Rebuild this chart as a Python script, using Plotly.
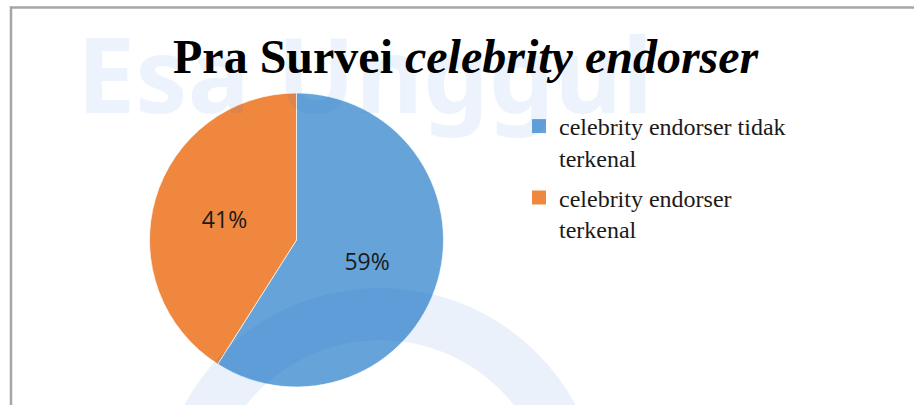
import plotly.graph_objects as go

labels = ["celebrity endorser tidak<br>terkenal", "celebrity endorser<br>terkenal"]
values = [59, 41]
colors = ["#66A3D8", "#EF873F"]
title_plain = "Pra Survei "
title_italic = "celebrity endorser"

W, H = 914, 405

def px(x):
    return x / W

def py(y):
    return 1 - y / H

fig = go.Figure()
fig.add_trace(go.Pie(
    labels=labels,
    values=values,
    sort=False,
    direction="clockwise",
    rotation=0,
    marker=dict(colors=colors, line=dict(color="white", width=0.7)),
    texttemplate="%{percent:.0%}",
    textposition="inside",
    insidetextorientation="horizontal",
    textfont=dict(family="Open Sans, Noto Sans, sans-serif", size=23, color="#1a1a1a"),
    domain=dict(x=[px(148), px(445)], y=[py(387), py(93)]),
    hoverinfo="skip",
    showlegend=False,
))

# legend entries (square swatches) built from the same labels / colours
for i, (lab, col) in enumerate(zip(labels, colors)):
    fig.add_trace(go.Scatter(
        x=[None], y=[None], mode="markers", name=lab,
        legendgroup=f"g{i}",
        marker=dict(symbol="square", size=14, color=col),
        hoverinfo="skip",
    ))

fig.update_layout(
    width=W, height=H,
    margin=dict(l=0, r=0, t=0, b=0),
    paper_bgcolor="white",
    plot_bgcolor="rgba(0,0,0,0)",
    xaxis=dict(visible=False),
    yaxis=dict(visible=False),
    showlegend=True,
    legend=dict(
        x=px(519), y=py(104), xanchor="left", yanchor="top",
        font=dict(family="Liberation Serif, Times New Roman, serif", size=24, color="#1a1a1a"),
        valign="top",
        tracegroupgap=6,
        itemwidth=30,
        bgcolor="rgba(0,0,0,0)",
    ),
    annotations=[
        dict(
            text="Esa Unggul",
            x=px(365), y=py(72), xref="paper", yref="paper",
            xanchor="center", yanchor="middle", showarrow=False,
            font=dict(family="Noto Sans, sans-serif", size=104, color="rgba(20,100,215,0.08)", weight="bold"),
        ),
        dict(
            text=f"<b>{title_plain}<i>{title_italic}</i></b>",
            x=px(467), y=py(57), xref="paper", yref="paper",
            xanchor="center", yanchor="middle", showarrow=False,
            font=dict(family="Liberation Serif, Times New Roman, serif", size=48, color="black"),
        ),
    ],
    shapes=[
        dict(type="circle", xref="paper", yref="paper",
             x0=px(380 - 196), x1=px(380 + 196), y0=py(510 + 196), y1=py(510 - 196),
             line=dict(color="rgba(20,100,215,0.09)", width=52), layer="above"),
        dict(type="line", xref="paper", yref="paper",
             x0=px(10), x1=px(914), y0=py(7.5), y1=py(7.5),
             line=dict(color="#A6A6A6", width=2.5)),
        dict(type="line", xref="paper", yref="paper",
             x0=px(11), x1=px(11), y0=py(6.5), y1=py(405),
             line=dict(color="#A6A6A6", width=2.5)),
    ],
)

fig.write_html("out.html")
